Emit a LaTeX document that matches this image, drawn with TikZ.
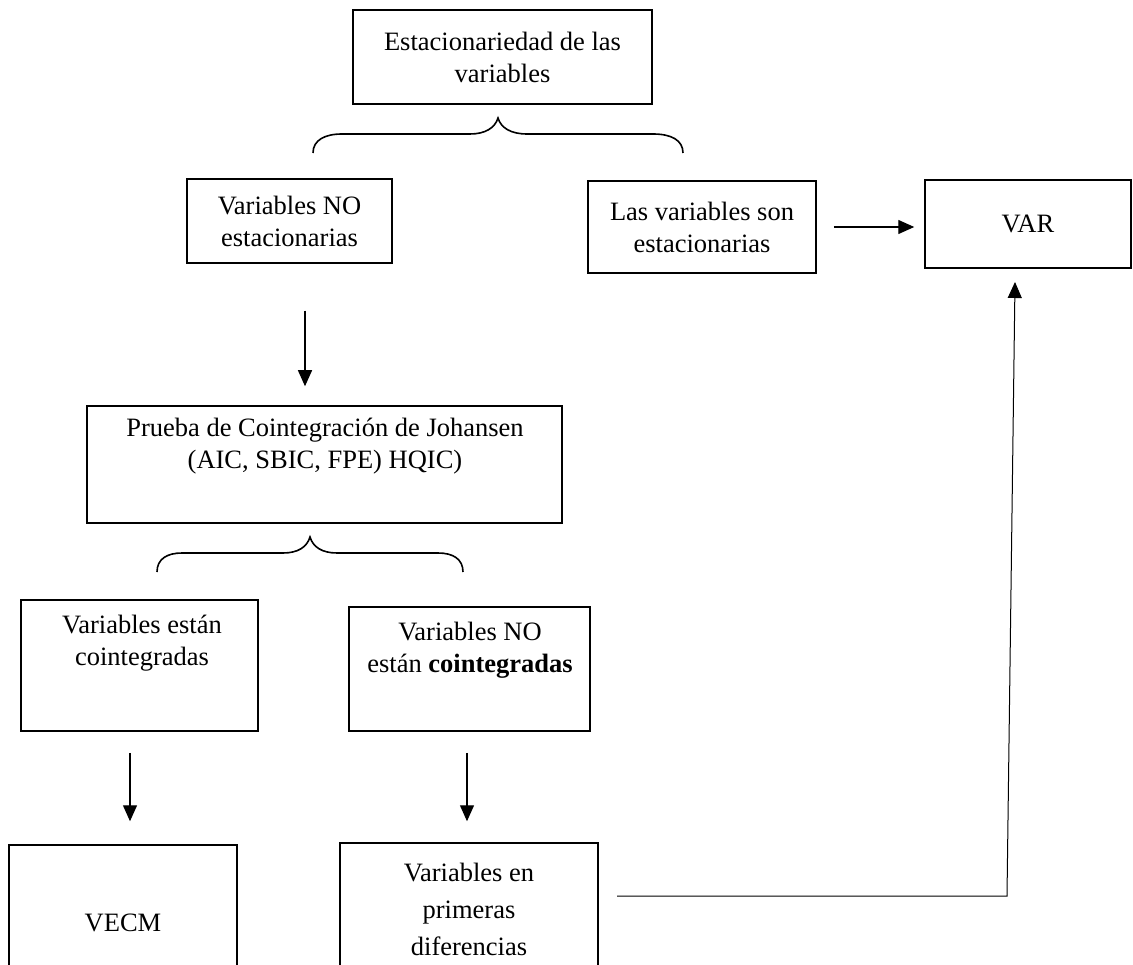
\documentclass[tikz,border=0pt]{standalone}
\usepackage{fontspec}
\setmainfont{Liberation Serif}
\usetikzlibrary{arrows.meta,positioning,calc}

\tikzset{
  box/.style={draw, line width=1.5pt, inner sep=0pt, align=center,
    font=\fontsize{26.5}{32}\selectfont},
  txt/.style={align=center, inner sep=0pt, font=\fontsize{26.5}{32}\selectfont},
  conn/.style={->, line width=1.3pt},
}

\begin{document}
\begin{tikzpicture}[x=1pt, y=-1pt, >={Triangle[length=16pt,width=14pt]}]
        \useasboundingbox (0,0) rectangle (1133,965);
        \clip (0,0) rectangle (1133,965);
        % first level
        \node[box, minimum width=299pt, minimum height=94pt] (est) at (502.5,57) {Estacionariedad de las\\variables};
        \draw[line width=1.6pt] (313,153) .. controls (313,140) and (325,134) .. (342,134) -- (470,134)
              .. controls (485,134) and (495,128) .. (498,118)
              .. controls (501,128) and (511,134) .. (527,134) -- (653,134)
              .. controls (671,134) and (683,140) .. (683,153);
        \node[box, minimum width=205pt, minimum height=84pt] (noest) at (289.5,221) {Variables NO\\estacionarias};
        \node[box, minimum width=228pt, minimum height=92pt] (siest) at (702,227) {Las variables son\\estacionarias};
        \node[box, minimum width=206pt, minimum height=88pt] (var) at (1028,224) {VAR};
        \draw[conn, shorten <=17pt, shorten >=10pt] (siest.east) -- (siest.east -| var.west);
        % Johansen
        \node[box, minimum width=475pt, minimum height=117pt] (johansen) at (324.5,464.5) {};
        \node[txt] (johansentxt) at (325,446) {Prueba de Cointegración de Johansen\\(AIC, SBIC, FPE) HQIC)};
        \draw[conn, shorten <=47pt, shorten >=19pt] (noest.south -| 305,0) -- (johansen.north -| 305,0);
        \draw[line width=1.6pt] (157,572) .. controls (157,559) and (167,553) .. (182,553) -- (283,553)
              .. controls (298,553) and (307,547) .. (310,537)
              .. controls (313,547) and (322,553) .. (337,553) -- (438,553)
              .. controls (453,553) and (463,559) .. (463,572);
        % second level
        \node[box, minimum width=237pt, minimum height=131pt] (coint) at (139.5,665.5) {};
        \node[txt] (cointtxt) at (142,643) {Variables están\\cointegradas};
        \node[box, minimum width=241pt, minimum height=124pt] (nocoint) at (469.5,669) {};
        \node[txt] (nocointtxt) at (470,650) {Variables NO\\están \textbf{cointegradas}};
        \node[box, minimum width=228pt, minimum height=155pt] (vecm) at (123,922.5) {VECM};
        \node[box, minimum width=258pt, minimum height=157pt] (difer) at (469,921.5) {};
        \node[txt, font=\fontsize{26.5}{37}\selectfont] (difertxt) at (469,909) {Variables en\\primeras\\diferencias};
        \draw[conn, shorten <=21pt, shorten >=23pt] (coint.south -| 130,0) -- (vecm.north -| 130,0);
        \draw[conn, shorten <=21pt, shorten >=21pt] (nocoint.south -| 467,0) -- (difer.north -| 467,0);
        % back to VAR
        \coordinate (diferout) at (617,896);
        \coordinate (turn) at (1007,896);
        \coordinate (varin) at (1015,282);
        \draw[->, line width=1pt] (diferout) -- (turn) -- (varin);
    \end{tikzpicture}
\end{document}
